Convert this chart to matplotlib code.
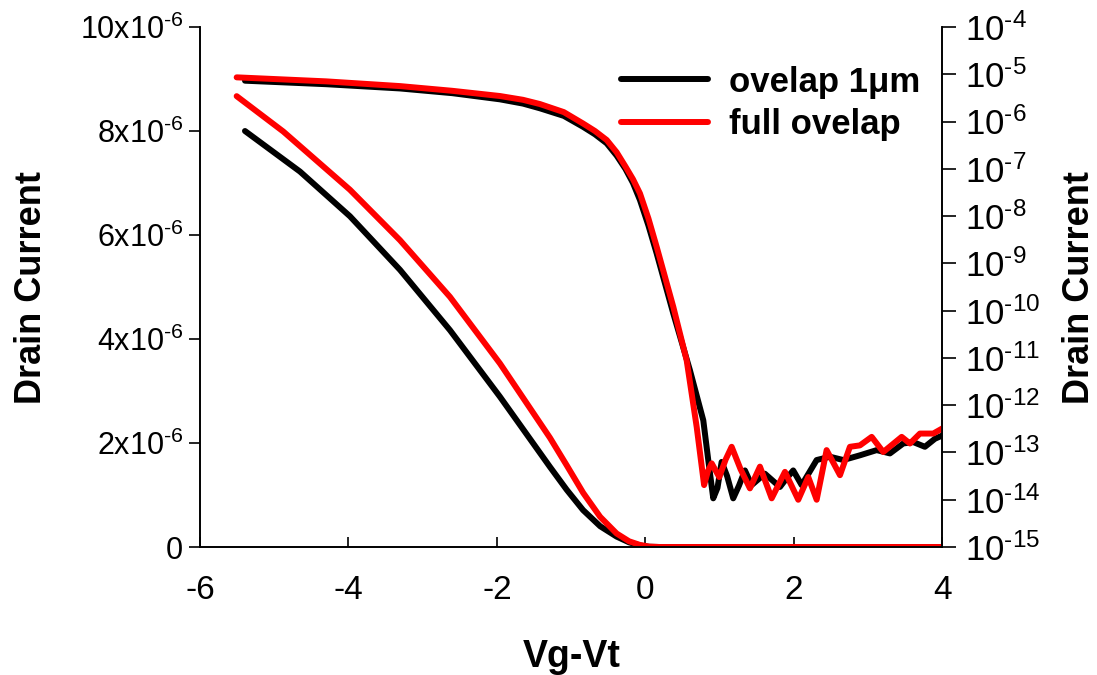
import matplotlib
matplotlib.use("Agg")
import matplotlib.pyplot as plt
from matplotlib.ticker import FixedLocator, FixedFormatter

plt.rcParams['font.family'] = ['Liberation Sans', 'DejaVu Sans']
plt.rcParams['axes.unicode_minus'] = False
plt.rcParams['mathtext.fontset'] = 'custom'
plt.rcParams['mathtext.rm'] = 'Liberation Sans'
plt.rcParams['mathtext.it'] = 'Liberation Sans:italic'
plt.rcParams['mathtext.bf'] = 'Liberation Sans:bold'

# ---- data: linear scale (left axis, units of 1e-6 A) ----
lin_black_x = [-5.394, -4.653, -3.98, -3.306, -2.633, -1.96, -1.286, -1.06, -0.84, -0.61, -0.388, -0.22, -0.074, 0.05, 0.2, 1.0, 2.0, 3.0, 4.0]
lin_black_y = [8.0, 7.22, 6.36, 5.33, 4.17, 2.89, 1.54, 1.10, 0.71, 0.40, 0.2, 0.09, 0.03, 0.005, 0.0, 0.0, 0.0, 0.0, 0.0]
lin_red_x = [-5.506, -4.878, -3.98, -3.306, -2.633, -1.96, -1.286, -1.06, -0.838, -0.61, -0.388, -0.22, -0.074, 0.05, 0.2, 1.0, 2.0, 3.0, 4.0]
lin_red_y = [8.67, 7.99, 6.87, 5.9, 4.81, 3.53, 2.10, 1.57, 1.04, 0.58, 0.26, 0.11, 0.04, 0.008, 0.0, 0.0, 0.0, 0.0, 0.0]

# ---- data: log scale (right axis, log10 of current) ----
log_black_x = [-5.394, -4.3, -3.306, -2.6, -1.96, -1.65, -1.421, -1.1, -0.842, -0.68, -0.522, -0.388, -0.27, -0.168, -0.074, 0.04, 0.151, 0.375, 0.599,
               0.779, 0.846, 0.913, 0.97, 1.026, 1.10, 1.182, 1.26, 1.340, 1.430, 1.609, 1.811, 1.90, 1.990,
               2.104, 2.306, 2.485, 2.665, 2.889, 3.114, 3.293, 3.472, 3.607, 3.764, 3.899, 4.0]
log_black_y = [-5.136, -5.21, -5.30, -5.40, -5.53, -5.62, -5.72, -5.88, -6.11, -6.27, -6.46, -6.72, -7.0, -7.30, -7.66, -8.2, -8.79, -10.06, -11.26,
               -12.32, -13.16, -13.97, -13.75, -13.2, -13.5, -13.97, -13.7, -13.38, -13.69, -13.45, -13.73, -13.55, -13.38,
               -13.69, -13.16, -13.09, -13.16, -13.06, -12.95, -13.02, -12.81, -12.78, -12.88, -12.71, -12.64]
log_red_x = [-5.506, -4.3, -3.306, -2.6, -1.96, -1.65, -1.421, -1.1, -0.842, -0.68, -0.522, -0.388, -0.27, -0.168, -0.074, 0.04, 0.151, 0.375, 0.555, 0.690,
             0.790, 0.84, 0.892, 0.994, 1.08, 1.161, 1.28, 1.407, 1.542, 1.700, 1.879, 2.058, 2.193,
             2.306, 2.440, 2.620, 2.754, 2.889, 3.047, 3.203, 3.451, 3.562, 3.697, 3.876, 4.0]
log_red_y = [-5.065, -5.15, -5.25, -5.35, -5.46, -5.54, -5.63, -5.80, -6.04, -6.20, -6.39, -6.65, -6.95, -7.22, -7.52, -8.05, -8.65, -9.92, -11.05, -12.46,
             -13.69, -13.4, -13.23, -13.52, -13.15, -12.88, -13.35, -13.76, -13.30, -13.97, -13.41, -14.0, -13.52,
             -14.0, -12.95, -13.48, -12.88, -12.85, -12.67, -12.99, -12.67, -12.81, -12.60, -12.60, -12.49]

series_labels = ['ovelap 1\u03bcm', 'full ovelap']
x_ticks = [-6, -4, -2, 0, 2, 4]
left_ticks = [0, 2, 4, 6, 8, 10]
left_tick_labels = ['0', '2x10$^{\u20106}$', '4x10$^{\u20106}$', '6x10$^{\u20106}$', '8x10$^{\u20106}$', '10x10$^{\u20106}$']
right_exps = list(range(-15, -3))

fig = plt.figure(figsize=(10.97, 6.75), dpi=100)
ax = fig.add_axes([0.1823, 0.1896, 0.6768, 0.7704])
ax2 = ax.twinx()

lw = 4.3
style = dict(lw=lw, solid_capstyle='round', solid_joinstyle='round')
ax.plot(lin_black_x, [v * 1e-6 for v in lin_black_y], color='black', **style)
ax.plot(lin_red_x, [v * 1e-6 for v in lin_red_y], color='red', **style)

lb, = ax2.plot(log_black_x, [10 ** v for v in log_black_y], color='black', **style)
lr, = ax2.plot(log_red_x, [10 ** v for v in log_red_y], color='red', **style)

ax.set_xlim(-6, 4)
ax.set_ylim(0, 10e-6)
ax2.set_yscale('log')
ax2.set_ylim(1e-15, 1e-4)

ax.set_xticks(x_ticks)
ax.set_xticklabels([str(t) for t in x_ticks])
ax.set_yticks([t * 1e-6 for t in left_ticks])
ax.set_yticklabels(left_tick_labels)
ax2.yaxis.set_major_locator(FixedLocator([10.0 ** e for e in right_exps]))
ax2.yaxis.set_major_formatter(FixedFormatter(['$10^{\u2010%d}$' % (-e) for e in right_exps]))
ax2.yaxis.set_minor_locator(FixedLocator([]))

for a in (ax, ax2):
    a.spines['top'].set_visible(False)
    for s in a.spines.values():
        s.set_linewidth(1.2)

ax.tick_params(axis='x', direction='in', length=7, width=1.2, labelsize=24, pad=20)
ax.tick_params(axis='y', direction='out', length=8, width=1.2, labelsize=22, pad=4)
ax2.tick_params(axis='y', direction='out', length=10, width=1.2, labelsize=25, pad=6)

ax.set_xlabel('Vg-Vt', fontsize=27, fontweight='bold', labelpad=24)
ax.set_ylabel('Drain Current', fontsize=26, fontweight='bold', labelpad=22)
ax2.set_ylabel('Drain Current', fontsize=26, fontweight='bold', labelpad=16)

leg = ax2.legend([lb, lr], series_labels, loc='upper right', bbox_to_anchor=(0.998, 0.966),
                 frameon=False, prop={'weight': 'bold', 'size': 25}, handlelength=2.5,
                 handletextpad=0.6, labelspacing=0.27, borderaxespad=0.2)

fig.savefig('out.png', dpi=100)
